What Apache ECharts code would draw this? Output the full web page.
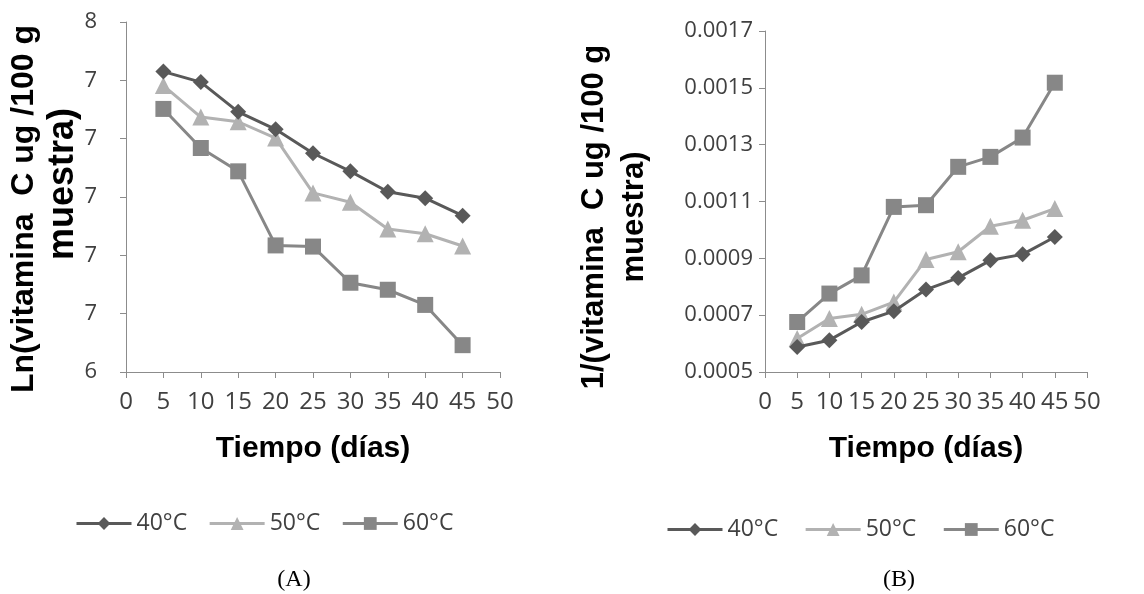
<!DOCTYPE html>
<html>
<head>
<meta charset="utf-8">
<script src="https://cdn.jsdelivr.net/npm/echarts@6/dist/echarts.min.js"></script>
<style>
html,body{margin:0;padding:0;background:#fff;}
#chart{width:1144px;height:594px;}
</style>
</head>
<body>
<div id="chart"></div>
<script>
// ---- data ----
const days = [5, 10, 15, 20, 25, 30, 35, 40, 45];
const seriesNames = ['40°C', '50°C', '60°C'];

// (A) Ln(vitamina C)
const lnT40 = [7.430, 7.394, 7.292, 7.232, 7.150, 7.088, 7.018, 6.996, 6.936];
const lnT50 = [7.382, 7.274, 7.258, 7.202, 7.014, 6.982, 6.890, 6.874, 6.832];
const lnT60 = [7.302, 7.168, 7.088, 6.834, 6.830, 6.706, 6.682, 6.630, 6.492];

// (B) 1/(vitamina C)
const invT40 = [0.000588, 0.000612, 0.000676, 0.000714, 0.000790, 0.000831, 0.000893, 0.000914, 0.000975];
const invT50 = [0.000618, 0.000688, 0.000703, 0.000746, 0.000896, 0.000923, 0.001013, 0.001034, 0.001075];
const invT60 = [0.000676, 0.000776, 0.000840, 0.001081, 0.001087, 0.001222, 0.001257, 0.001325, 0.001518];

// tick values and labels
const lnTickValues = [6.4, 6.6, 6.8, 7.0, 7.2, 7.4, 7.6];
const lnTickLabels = ['6', '7', '7', '7', '7', '7', '8'];
const invTickValues = [0.0005, 0.0007, 0.0009, 0.0011, 0.0013, 0.0015, 0.0017];
const invTickLabels = ['0.0005', '0.0007', '0.0009', '0.0011', '0.0013', '0.0015', '0.0017'];
const xTickLabels = ['0', '5', '10', '15', '20', '25', '30', '35', '40', '45', '50'];

const yTitleA = ['Ln(vitamina  C ug /100 g', 'muestra)'];
const yTitleB = ['1/(vitamina  C ug /100 g', 'muestra)'];
const xTitle = 'Tiempo (días)';
const captions = ['(A)', '(B)'];

// ---- styles ----
const colors = ['#595959', '#b2b2b2', '#878787'];
const symbols = ['diamond', 'triangle', 'rect'];
const symbolSizes = [16, 17, 16];
const axisColor = '#8c8c8c';
const labelColor = '#404040';
const tickFont = 'Open Sans';

function zip(xs, ys) { return xs.map((x, i) => [x, ys[i]]); }

function xAxisDef(gridIndex) {
  return {
    type: 'value', gridIndex, min: 0, max: 50, interval: 5,
    axisLine: { show: true, lineStyle: { color: axisColor, width: 1 } },
    axisTick: { show: true, length: 6, lineStyle: { color: axisColor } },
    splitLine: { show: false },
    axisLabel: { color: labelColor, fontFamily: tickFont, fontSize: 24, margin: 18,
      formatter: v => xTickLabels[Math.round(v / 5)] },
    name: xTitle, nameLocation: 'middle', nameGap: 62,
    nameTextStyle: { color: '#000', fontFamily: 'Liberation Sans', fontWeight: 'bold', fontSize: 30 }
  };
}

function yAxisDef(gridIndex, min, max, tickVals, tickLabs, margin) {
  return {
    type: 'value', gridIndex, min, max,
    axisLine: { show: true, lineStyle: { color: axisColor, width: 1 } },
    axisTick: { show: true, length: 6, lineStyle: { color: axisColor }, customValues: tickVals },
    splitLine: { show: false },
    axisLabel: { color: labelColor, fontFamily: tickFont, fontSize: 22, margin,
      customValues: tickVals,
      formatter: v => {
        let best = 0, bd = Infinity;
        tickVals.forEach((t, i) => { const d = Math.abs(t - v); if (d < bd) { bd = d; best = i; } });
        return tickLabs[best];
      } }
  };
}

function seriesDef(i, xIdx, data) {
  return {
    name: seriesNames[i], type: 'line', xAxisIndex: xIdx, yAxisIndex: xIdx,
    data, symbol: symbols[i], symbolSize: symbolSizes[i], showSymbol: true,
    lineStyle: { color: colors[i], width: 3 },
    itemStyle: { color: colors[i] },
    z: 10 - i, animation: false
  };
}

function vText(text, x, y, size) {
  return {
    type: 'text', x, y, rotation: Math.PI / 2, z: 100,
    style: { text, font: 'bold ' + size + 'px "Liberation Sans"', fill: '#000',
      textAlign: 'center', textVerticalAlign: 'middle' }
  };
}

const chart = echarts.init(document.getElementById('chart'), null, { renderer: 'canvas' });
const legendCommon = {
  data: seriesNames, orient: 'horizontal', itemWidth: 55, itemHeight: 16, padding: 0,
  lineStyle: { width: 3 },
  textStyle: { color: labelColor, fontFamily: tickFont, fontSize: 23 }
};
chart.setOption({
  animation: false,
  backgroundColor: '#fff',
  grid: [
    { left: 126, top: 22, width: 374, height: 350 },
    { left: 765, top: 31, width: 322, height: 341 }
  ],
  xAxis: [xAxisDef(0), xAxisDef(1)],
  yAxis: [
    yAxisDef(0, 6.4, 7.6, lnTickValues, lnTickLabels, 29),
    yAxisDef(1, 0.0005, 0.0017, invTickValues, invTickLabels, 12)
  ],
  legend: [
    Object.assign({}, legendCommon, { left: 75, top: 512, itemGap: 21 }),
    Object.assign({}, legendCommon, { left: 666, top: 518, itemGap: 26 })
  ],
  series: [
    seriesDef(0, 0, zip(days, lnT40)),
    seriesDef(1, 0, zip(days, lnT50)),
    seriesDef(2, 0, zip(days, lnT60)),
    seriesDef(0, 1, zip(days, invT40)),
    seriesDef(1, 1, zip(days, invT50)),
    seriesDef(2, 1, zip(days, invT60))
  ],
  graphic: [
    vText(yTitleA[0], 24, 209, 32),
    vText(yTitleA[1], 63, 184, 36),
    vText(yTitleB[0], 594, 217, 31),
    vText(yTitleB[1], 634, 217, 31),
    { type: 'text', x: 294, y: 580, style: { text: captions[0], font: '24px "Liberation Serif"', fill: '#000', textAlign: 'center', textVerticalAlign: 'middle' } },
    { type: 'text', x: 899, y: 580, style: { text: captions[1], font: '24px "Liberation Serif"', fill: '#000', textAlign: 'center', textVerticalAlign: 'middle' } }
  ]
});
</script>
</body>
</html>
